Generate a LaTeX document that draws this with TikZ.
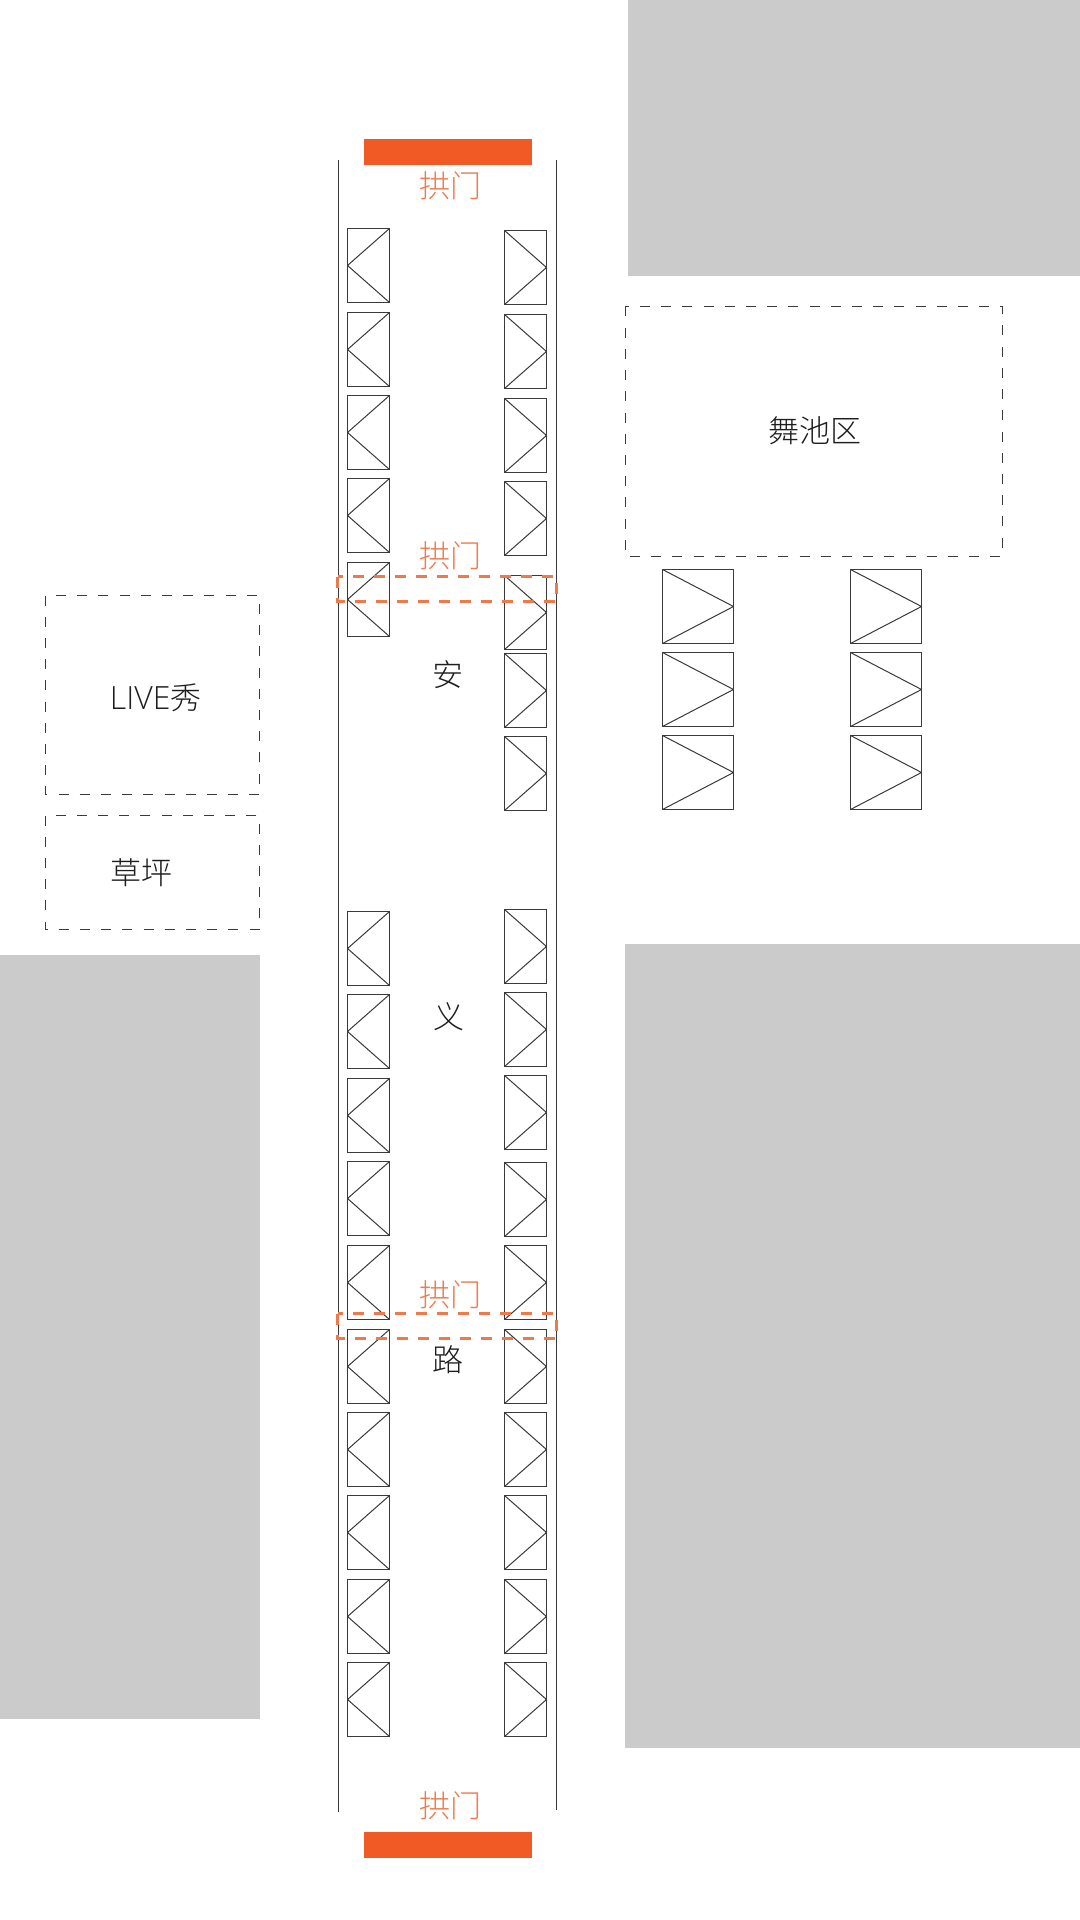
\documentclass[tikz,border=0pt]{standalone}
\usepackage{fontspec}
\newfontfamily\cjk{Noto Sans CJK SC Light}
\newfontfamily\latinlight{Open Sans Light}
\definecolor{ink}{HTML}{3A3A3A}
\definecolor{labelink}{HTML}{1E1E1E}
\definecolor{orangebar}{HTML}{F15A24}
\definecolor{orangedash}{HTML}{EE7A4C}
\definecolor{orangetext}{HTML}{EE7C4E}
\definecolor{block}{HTML}{CBCBCB}
\tikzset{
  x=0.5pt,y=-0.5pt,
  blockarea/.style={fill=block,draw=none},
  gatebar/.style={fill=orangebar,draw=none},
  road/.style={draw=ink,line width=0.6pt},
  zone/.style={draw=ink,line width=0.55pt,dash pattern=on 5pt off 5.6pt},
  archzone/.style={draw=orangedash,line width=1.3pt,dash pattern=on 5.5pt off 5pt},
  gatelabel/.style={text=orangetext,font=\cjk\fontsize{15.5pt}{18pt}\selectfont,inner sep=0pt},
  label/.style={text=labelink,font=\cjk\fontsize{15.5pt}{18pt}\selectfont,inner sep=0pt},
  boothbase/.style={draw=ink,line width=0.6pt,inner sep=0pt,outer sep=0pt,anchor=north west},
  boothL/.style={boothbase,minimum width=21pt,minimum height=37pt,
    path picture={\draw[ink,line width=0.5pt] (path picture bounding box.north east)--(path picture bounding box.west)--(path picture bounding box.south east);}},
  boothR/.style={boothbase,minimum width=21pt,minimum height=37pt,
    path picture={\draw[ink,line width=0.5pt] (path picture bounding box.north west)--(path picture bounding box.east)--(path picture bounding box.south west);}},
  boothB/.style={boothbase,minimum width=35.5pt,minimum height=37pt,
    path picture={\draw[ink,line width=0.5pt] (path picture bounding box.north west)--(path picture bounding box.east)--(path picture bounding box.south west);}},
}
\begin{document}
\begin{tikzpicture}
\useasboundingbox (0,0) rectangle (1080,1920);
\fill[white] (0,0) rectangle (1080,1920);
% grey blocks
\path[blockarea] (628,0) rectangle (1080,276.5);
\path[blockarea] (625,943.5) rectangle (1080,1747.5);
\path[blockarea] (0,955) rectangle (259.5,1718.5);
% road
\coordinate (roadLt) at (338.5,160);
\coordinate (roadLb) at (338.5,1812);
\coordinate (roadRt) at (556.5,160);
\coordinate (roadRb) at (556.5,1810);
\draw[road] (roadLt)--(roadLb);
\draw[road] (roadRt)--(roadRb);
% gates
\path[gatebar] (364,139.5) rectangle (531.5,165);
\path[gatebar] (364,1832) rectangle (531.5,1858);
\node[gatelabel] (g1) at (450,186) {拱门};
\node[gatelabel] (g2) at (450,556) {拱门};
\node[gatelabel] (g3) at (450,1294.5) {拱门};
\node[gatelabel] (g4) at (450,1806) {拱门};
% left booths
\foreach \i/\y in {1/228.5,2/312.5,3/395.5,4/478.5,5/562.5,6/911.5,7/994.5,8/1078.5,9/1161.5,10/1245.5,11/1329.5,12/1412.5,13/1495.5,14/1579.5,15/1662.5}
  \node[boothL] (L\i) at (347.5,\y) {};
% right booths
\foreach \i/\y in {1/230.5,2/314.5,3/398.5,4/481.5,5/575.5,6/653.5,7/736.5,8/909.5,9/992.5,10/1075.5,11/1162.5,12/1245.5,13/1329.5,14/1412.5,15/1495.5,16/1579.5,17/1662.5}
  \node[boothR] (R\i) at (504.5,\y) {};
% large booths
\foreach \i/\y in {1/569.5,2/652.5,3/735.5}{
  \node[boothB] (A\i) at (662.5,\y) {};
  \node[boothB] (B\i) at (850.5,\y) {};
}
% arch bands
\draw[archzone] (337.5,576.5) rectangle (556.5,601.5);
\draw[archzone] (337.5,1313.5) rectangle (556.5,1338.5);
% dashed zones
\draw[zone] (625.5,306.5) rectangle (1002.5,556.5);
\draw[zone] (45.5,595.5) rectangle (259.5,794.5);
\draw[zone] (45.5,815.5) rectangle (259.5,929.5);
% labels
\node[label] (an) at (448,675) {安};
\node[label] (yi) at (448.5,1017) {义};
\node[label] (lu) at (448,1360) {路};
\node[label] (wu) at (814.5,431) {舞池区};
\node[label,anchor=west] (live) at (109.5,698) {{\latinlight\fontsize{16pt}{18pt}\selectfont LIVE}秀};
\node[label,anchor=west] (cao) at (110.5,873) {草坪};
\end{tikzpicture}
\end{document}
